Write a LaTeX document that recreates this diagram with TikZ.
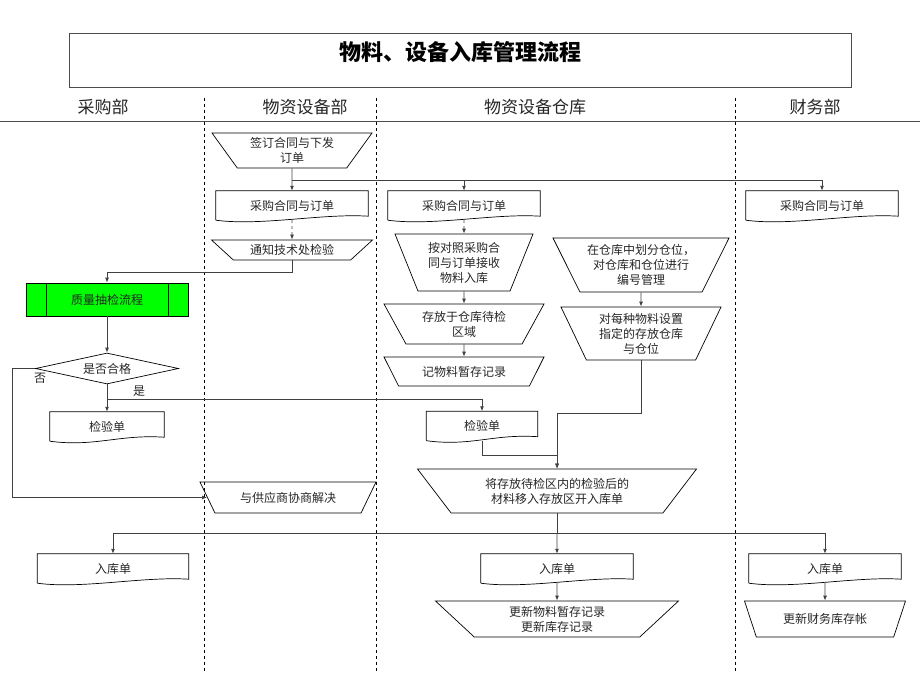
\documentclass[tikz,border=0pt]{standalone}
\usepackage{fontspec}
\setmainfont{Noto Sans CJK SC}
\usetikzlibrary{shapes.geometric,arrows.meta,calc}

\tikzset{
  every node/.style={font=\fontsize{12}{15}\selectfont, text=black!85},
  trap/.style={trapezium, shape border rotate=180, trapezium stretches body,
    draw, line width=0.7pt, inner sep=1pt, align=center},
  docbox/.style={minimum width=#1, minimum height=29pt, inner sep=1pt, align=center,
    append after command={\pgfextra{\draw[line width=0.7pt]
      (\tikzlastnode.south west) -- (\tikzlastnode.north west) -- (\tikzlastnode.north east)
      -- ([yshift=4pt]\tikzlastnode.south east)
      .. controls +(-45pt,3pt) and +(45pt,-6pt) .. (\tikzlastnode.south west);}}},
  subproc/.style={rectangle, draw, line width=0.7pt, fill=green, minimum width=162pt, minimum height=33pt,
    path picture={
      \draw ([xshift=20pt]path picture bounding box.north west) -- ([xshift=20pt]path picture bounding box.south west);
      \draw ([xshift=-20pt]path picture bounding box.north east) -- ([xshift=-20pt]path picture bounding box.south east);}},
  decide/.style={diamond, aspect=4.6, draw, line width=0.7pt, minimum width=143pt, minimum height=31pt, inner sep=0pt},
  head/.style={font=\fontsize{17}{20}\selectfont, text=black!85},
  lane/.style={dashed, line width=0.8pt},
  conn/.style={draw=black!75, line width=0.9pt, -{Latex[length=5pt,width=4pt]}},
  wire/.style={draw=black!75, line width=0.9pt}
}

\begin{document}
\begin{tikzpicture}[x=1pt, y=-1pt]
\useasboundingbox (0,0) rectangle (920,690);

% title and lanes
\draw[black!70, line width=0.8pt] (69,33) rectangle (851,87);
\node[font=\bfseries\fontsize{22}{26}\selectfont, text=black] (title) at (460,52) {物料、设备入库管理流程};
\node[head] (hbuy) at (103,107) {采购部};
\node[head] (hdept) at (305,107) {物资设备部};
\node[head] (hstore) at (535,107) {物资设备仓库};
\node[head] (hfin) at (815,107) {财务部};
\draw[black!70, line width=1pt] (0,122) -- (920,122);
\draw[lane] (204,98) -- (204,673);
\draw[lane] (376,98) -- (376,673);
\draw[lane] (735,98) -- (735,673);

% boxes
\node[trap, trapezium angle=48, minimum width=160pt, minimum height=35pt] (sign) at (292,150.5) {签订合同与下发\\订单};
\node[docbox=152pt] (po1) at (292,205.5) {采购合同与订单};
\node[docbox=152pt] (po2) at (464,205.5) {采购合同与订单};
\node[docbox=152pt] (po3) at (822,205.5) {采购合同与订单};
\node[trap, trapezium angle=31, minimum width=161pt, minimum height=20pt] (notify) at (292,250) {通知技术处检验};
\node[subproc] (quality) at (107,299.5) {质量抽检流程};
\node[decide] (decision) at (107,368.5) {是否合格};
\node[docbox=114pt] (chk1) at (107,426.5) {检验单};
\node[trap, trapezium angle=41.5, minimum width=176pt, minimum height=31pt] (supplier) at (288,497.5) {与供应商协商解决};

\node[trap, trapezium angle=62, minimum width=138pt, minimum height=57pt] (recv) at (464,262.5) {按对照采购合\\同与订单接收\\物料入库};
\node[trap, trapezium angle=52, minimum width=160pt, minimum height=40pt] (store) at (464,324) {存放于仓库待检\\区域};
\node[trap, trapezium angle=42, minimum width=160pt, minimum height=29pt] (record) at (464,371.5) {记物料暂存记录};
\node[trap, trapezium angle=58, minimum width=176pt, minimum height=54pt] (divide) at (641,265) {在仓库中划分仓位，\\对仓库和仓位进行\\编号管理};
\node[trap, trapezium angle=59.5, minimum width=160pt, minimum height=53pt] (assign) at (641,333.5) {对每种物料设置\\指定的存放仓库\\与仓位};
\node[docbox=111pt] (chk2) at (482,426) {检验单};
\node[trap, trapezium angle=40, minimum width=279pt, minimum height=44pt] (move) at (557,491) {将存放待检区内的检验后的\\材料移入存放区开入库单};

\node[docbox=151pt] (in1) at (113,568.5) {入库单};
\node[docbox=152pt] (in2) at (557,568.5) {入库单};
\node[docbox=152pt] (in3) at (825,568.5) {入库单};
\node[trap, trapezium angle=36, minimum width=243pt, minimum height=36pt] (upd) at (557,619) {更新物料暂存记录\\更新库存记录};
\node[trap, trapezium angle=48, minimum width=161pt, minimum height=36pt] (fin) at (825,619) {更新财务库存帐};

% connectors
\draw[conn] (sign.south) -- (po1.north);
\coordinate (s1) at (292,180);
\draw[conn] (s1) -| (po2.north);
\draw[conn] (s1) -| (po3.north);
\draw[conn, dashed] (po1.south) -- (notify.north);
\draw[conn] (notify.south) -- ++(0,12) -| (quality.north);
\draw[conn] (quality.south) -- (decision.north);
\draw[conn] (decision.west) -- ++(-23,0) |- (supplier.west);
\node (no) at (40,378) {否};
\draw[conn] (decision.south) -- (chk1.north);
\coordinate (s2) at (107,399);
\draw[conn] (s2) -| (chk2.north);
\node (yes) at (139,391) {是};

\draw[conn, dashed] (po2.south) -- (recv.north);
\draw[conn] (recv.south) -- (store.north);
\draw[conn] (store.south) -- (record.north);
\draw[conn] (divide.south) -- (assign.north);
\draw[conn] (assign.south) -- ++(0,53) -| (move.north);
\draw[conn] (chk2.south) -- ++(0,15) -| (move.north);

\draw[wire] (move.south) -- ++(0,20) coordinate (s3);
\draw[conn] (s3) -| (in1.north);
\draw[conn] (s3) -- (in2.north);
\draw[conn] (s3) -| (in3.north);
\draw[conn] (in2.south) -- (upd.north);
\draw[conn] (in3.south) -- (fin.north);

\end{tikzpicture}
\end{document}
